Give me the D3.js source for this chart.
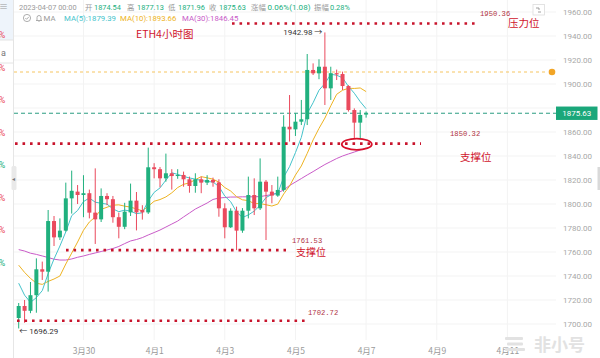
<!DOCTYPE html>
<html><head><meta charset="utf-8">
<script src="https://cdn.jsdelivr.net/npm/d3@7/dist/d3.min.js"></script>
<style>body{margin:0;background:#fff;} svg{display:block;}</style>
</head><body>
<svg id="c" width="600" height="358"></svg>
<script>
// ---------- DATA ----------
const openP  = [1705,1715,1711,1724,1745.6,1743.6,1785.8,1772.2,1777.8,1804.7,1810.3,1807.5,1809,1792.8,1787.2,1806.7,1804,1789,1781,1793,1802.8,1795,1793,1830.6,1829,1821.4,1825.6,1823.3,1824.2,1820.6,1815,1820.6,1817.8,1820,1818,1796.4,1780.6,1794.4,1777.8,1794.4,1807.5,1796.4,1818.6,1810.3,1807,1811.7,1864.4,1862.2,1868.6,1870.6,1911.7,1908.9,1914.4,1896.4,1909,1908.3,1898.3,1878.3,1867.8,1874.54];
const highP  = [1717.5,1720,1735,1754.7,1752,1795,1790,1788,1817.8,1827.8,1815.8,1824,1812,1829.7,1813,1809,1806.7,1792.8,1801,1817,1810,1799,1847,1834,1830.8,1842,1829,1829,1827,1822.8,1825.6,1822.8,1824,1822,1820.6,1800.6,1796.4,1797.8,1796.6,1822.8,1821.4,1838,1820,1815.8,1822.8,1874,1890.8,1875.6,1886.7,1925,1917.2,1920.6,1942.98,1914.4,1912,1910.3,1899,1879.7,1878.3,1877.13];
const lowP   = [1696.29,1701,1709,1709.4,1736.7,1727,1765,1770,1777,1792,1800,1789,1788,1766.7,1785,1799,1784.4,1771.4,1779,1790,1778,1787,1791.7,1821.4,1814,1818.6,1812,1821,1814.4,1809.4,1809.4,1809,1815.8,1814.4,1789.4,1771.4,1780,1761.53,1776,1788,1790.8,1795,1770,1800.6,1806,1810.3,1852,1856.7,1865.8,1865.8,1907.5,1904,1882.5,1886.7,1903.3,1895,1877,1854.7,1854.7,1871.96];
const closeP = [1715,1711,1724,1745.6,1743.6,1785.8,1772.2,1777.8,1804.7,1811,1807.5,1809,1792.8,1787.2,1806.7,1804,1789,1781,1793.6,1802.8,1793,1793,1830.6,1829,1821.4,1825.6,1823.3,1824.2,1820.6,1815,1820.6,1817.8,1820,1818,1796.4,1780.6,1794.4,1777.8,1794.4,1807.5,1796.4,1818.6,1810.3,1807,1811.7,1864.4,1862.2,1868.6,1870.6,1911.7,1908.9,1914.4,1896.4,1909,1908,1898.3,1878.3,1867.8,1874.2,1875.63];
const ma5  = [1734,1724,1718,1722,1727.8,1742,1754.2,1765,1776.8,1790.3,1794.6,1802,1805,1801.5,1800.6,1799.9,1795.9,1793.6,1794.9,1794.1,1791.9,1792.7,1802.6,1809.7,1813.4,1819.9,1826,1824.7,1823,1821.7,1820.7,1819.6,1818.8,1818.3,1814.6,1806.6,1801.9,1793.4,1788.7,1790.9,1794.1,1798.9,1805.4,1808,1808.8,1822.4,1831.1,1842.8,1855.5,1875.5,1884.4,1894.8,1900.4,1908.1,1907.3,1905.2,1898,1892.3,1885.3,1879.39];
const ma10 = [1749,1743,1738,1734,1733,1735.5,1737.5,1740,1750,1759.1,1768.3,1778.1,1785,1789.2,1795.5,1797.3,1799,1799.3,1798.2,1797.4,1795.9,1794.3,1798.1,1802.3,1803.7,1805.9,1809.3,1813.7,1816.4,1817.6,1820.3,1822.8,1821.8,1820.7,1818.2,1813.7,1810.8,1806.1,1803.5,1802.8,1800.3,1800.4,1799.4,1798.3,1799.9,1808.3,1815,1824.1,1831.7,1842.2,1853.4,1863,1871.6,1881.8,1891.4,1894.8,1896.4,1896.3,1896.7,1893.66];
const ma30 = [1762,1760.8,1759,1758,1756.7,1755.4,1754,1753.3,1753.3,1754.2,1755.6,1756.7,1758,1759.2,1760.4,1761.7,1762.9,1764.6,1767,1769.2,1770.4,1772,1774.2,1776.2,1778.3,1780.8,1783.3,1785.8,1789.2,1792.5,1795.8,1798.3,1800.8,1803.8,1805,1805.4,1805.8,1805.8,1806,1806,1806,1806.2,1807,1807.9,1809.2,1811.7,1815.4,1818.3,1821.2,1824.2,1827,1830,1832.9,1835.4,1837.9,1840,1841.7,1843.3,1845,1846.45];
const yTicks = [1700,1720,1740,1760,1780,1800,1820,1840,1860,1880,1900,1920,1940,1960];
const xTickDates  = [Date.UTC(2023,2,30),Date.UTC(2023,3,1),Date.UTC(2023,3,3),Date.UTC(2023,3,5),Date.UTC(2023,3,7),Date.UTC(2023,3,9),Date.UTC(2023,3,11)];
const xTickLabels = ["3月30","4月1","4月3","4月5","4月7","4月9","4月11"];
const resistLevel = 1950.36;
const supportLevels = [1850.32, 1761.53, 1702.72];
const maLevel = 1910;
const lastPrice = 1875.63;

// ---------- SETUP ----------
const FONT = "Roboto, 'Noto Sans CJK SC', sans-serif";
const CJK = "'Noto Sans CJK SC', Roboto, sans-serif";
const MONO = "'Liberation Mono', 'DejaVu Sans Mono', monospace";
const UP = "#20b07e", DOWN = "#ea4a5d";
const C5 = "#45c3cb", C10 = "#eeb322", C30 = "#c95bc8";
const RED = "#c8142c";

const svg = d3.select("#c");
const t0 = Date.UTC(2023,2,28,4);
const H4 = 4*3600*1000;
const times = closeP.map((_,i)=> new Date(t0 + i*H4));
const x = d3.scaleUtc().domain([times[0], times[times.length-1]]).range([18.7, 366.1]);
const y = d3.scaleLinear().domain([1700,1960]).range([324,12]);

svg.append("rect").attr("width",600).attr("height",358).attr("fill","#fff");

// grid
const grid = svg.append("g");
grid.selectAll("line.h").data(yTicks).join("line")
  .attr("x1",14).attr("x2",556).attr("y1",d=>y(d)).attr("y2",d=>y(d))
  .attr("stroke","#f3f3f3").attr("stroke-width",1);
grid.selectAll("line.v").data(xTickDates).join("line")
  .attr("x1",d=>x(new Date(d))).attr("x2",d=>x(new Date(d))).attr("y1",0).attr("y2",340)
  .attr("stroke","#f3f3f3").attr("stroke-width",1);

// left panel artifacts
svg.append("rect").attr("x",0).attr("y",0).attr("width",13.5).attr("height",40).attr("fill","#eef4fb");
svg.append("line").attr("x1",13.5).attr("x2",13.5).attr("y1",0).attr("y2",358).attr("stroke","#e6e6e6");
svg.append("text").attr("x",-1).attr("y",10).attr("font-size",9).attr("fill","#999").attr("font-family",FONT).text("≡");
const pctY = [35,68,100,133,165,198,230,263];
const pctC = [DOWN,DOWN,DOWN,DOWN,UP,DOWN,DOWN,UP];
svg.selectAll("text.pct").data(pctY).join("text")
  .attr("x",-1).attr("y",d=>d+3).attr("font-size",8.5).attr("font-family",FONT)
  .attr("fill",(d,i)=>pctC[i]).text("%");
svg.append("rect").attr("x",-2).attr("y",40).attr("width",15.5).attr("height",23).attr("fill","#fff").attr("stroke","#e4e4e4");
svg.append("text").attr("x",1).attr("y",56).attr("font-size",9).attr("fill","#777").attr("font-family",FONT).text("a");
svg.append("rect").attr("x",11.5).attr("y",166).attr("width",5).attr("height",24).attr("rx",1.5).attr("fill","#e9e9e9");
svg.append("text").attr("x",12.3).attr("y",180.5).attr("font-size",6).attr("fill","#777").text("◂");

// horizontal reference lines
svg.append("line").attr("x1",14).attr("x2",548).attr("y1",y(maLevel)).attr("y2",y(maLevel))
  .attr("stroke","#f6c560").attr("stroke-width",1).attr("stroke-dasharray","3 3");
svg.append("circle").attr("cx",552).attr("cy",y(maLevel)).attr("r",3.3).attr("fill","#f2a526");
svg.append("line").attr("x1",14).attr("x2",556).attr("y1",y(lastPrice)).attr("y2",y(lastPrice))
  .attr("stroke","#2a9d82").attr("stroke-width",1).attr("stroke-dasharray","4 3");

// MA lines
const lineGen = d3.line().x((d,i)=>x(times[i])).y(d=>y(d));
[[ma30,C30],[ma10,C10],[ma5,C5]].forEach(([arr,c])=>{
  svg.append("path").attr("d",lineGen(arr)).attr("fill","none").attr("stroke",c).attr("stroke-width",1);
});

// candles
const cg = svg.append("g");
closeP.forEach((c,i)=>{
  const o = openP[i], up = c >= o, col = up ? UP : DOWN, cx = x(times[i]);
  cg.append("line").attr("x1",cx).attr("x2",cx).attr("y1",y(highP[i])).attr("y2",y(lowP[i]))
    .attr("stroke",col).attr("stroke-width",1);
  const top = y(Math.max(o,c)), bot = y(Math.min(o,c));
  cg.append("rect").attr("x",cx-2).attr("width",4).attr("y",top).attr("height",Math.max(1,bot-top)).attr("fill",col);
});

// dotted annotation lines
function dotted(x1,x2,v){
  svg.append("line").attr("x1",x1).attr("x2",x2).attr("y1",y(v)).attr("y2",y(v))
    .attr("stroke",RED).attr("stroke-width",2.6).attr("stroke-dasharray","2.6 4.9");
}
dotted(232,479,resistLevel);
dotted(15,421,supportLevels[0]);
dotted(66,286,supportLevels[1]);
dotted(17,309,supportLevels[2]);
svg.append("ellipse").attr("cx",356.8).attr("cy",y(supportLevels[0])+0.6).attr("rx",15).attr("ry",5.6)
  .attr("fill","none").attr("stroke","#d8102a").attr("stroke-width",1.8);

function monoLabel(xp,yp,v){
  svg.append("text").attr("x",xp).attr("y",yp).attr("font-family",MONO).attr("font-size",7.2)
    .attr("fill","#b03444").text(d3.format(".2f")(v));
}
function cjkLabel(xp,yp,s,size){
  svg.append("text").attr("x",xp).attr("y",yp).attr("font-family",CJK).attr("font-size",size)
    .attr("fill","#d0142c").text(s);
}
monoLabel(480,16,resistLevel);
cjkLabel(508,27,"压力位",10.5);
monoLabel(450,136,supportLevels[0]);
cjkLabel(460,161,"支撑位",10.5);
monoLabel(292,243,supportLevels[1]);
cjkLabel(296,256,"支撑位",10);
monoLabel(308,315,supportLevels[2]);
cjkLabel(136,38,"ETH4小时图",10.5);

// high/low markers
const iMax = highP.indexOf(d3.max(highP)), iMin = lowP.indexOf(d3.min(lowP));
svg.append("text").attr("x",x(times[iMax])-2.5).attr("y",y(highP[iMax])+2.8).attr("text-anchor","end")
  .attr("font-family",FONT).attr("font-size",8).attr("fill","#333").text(d3.format(".2f")(highP[iMax])+" →");
svg.append("text").attr("x",x(times[iMin])+0.5).attr("y",y(lowP[iMin])+6).attr("text-anchor","start")
  .attr("font-family",FONT).attr("font-size",8).attr("fill","#333").text("← "+d3.format(".2f")(lowP[iMin]));

// right axis (the label hidden under the price tag is left out)
const ya = svg.append("g").attr("transform","translate(563,0)")
  .call(d3.axisRight(y).tickValues(yTicks.filter(v=>Math.abs(y(v)-y(lastPrice))>9)).tickFormat(d3.format(".2f")).tickSize(0).tickPadding(0));
ya.select(".domain").remove();
ya.selectAll("text").attr("font-family",FONT).attr("font-size",8).attr("fill","#a8a8a8");

// last price tag
svg.append("rect").attr("x",556).attr("y",y(lastPrice)-6.7).attr("width",41.5).attr("height",13.4).attr("fill","#1aa77a");
svg.append("text").attr("x",576.7).attr("y",y(lastPrice)+2.8).attr("text-anchor","middle")
  .attr("font-family",FONT).attr("font-size",8).attr("fill","#fff").text(d3.format(".2f")(lastPrice));

// bottom axis
const xa = svg.append("g").attr("transform","translate(0,347.5)")
  .call(d3.axisBottom(x).tickValues(xTickDates.map(d=>new Date(d))).tickFormat((d,i)=>xTickLabels[i]).tickSize(0).tickPadding(0));
xa.select(".domain").remove();
xa.selectAll("text").attr("font-family",CJK).attr("font-size",8.5).attr("fill","#9a9a9a");

// header
const h1 = [
  [19,"2023-04-07 00:00","#9a9a9a"],[85,"开","#9a9a9a"],[94,"1874.54",UP],[127,"高","#9a9a9a"],[137,"1877.13",UP],
  [168,"低","#9a9a9a"],[178,"1871.96",UP],[209,"收","#9a9a9a"],[219,"1875.63",UP],[251,"涨幅","#9a9a9a"],
  [267.5,"0.06%(1.08)",UP],[314,"振幅","#9a9a9a"],[330,"0.28%",UP]];
const h1t = svg.selectAll("text.h1").data(h1).join("text").attr("x",d=>d[0]).attr("y",10).attr("font-family",FONT)
  .attr("font-size",7.4).attr("fill",d=>d[2]).text(d=>d[1]);
h1t.filter(d=>d[1]==="0.06%(1.08)").attr("textLength",43).attr("lengthAdjust","spacingAndGlyphs");
svg.append("circle").attr("cx",27).attr("cy",18).attr("r",3.6).attr("fill","none").attr("stroke","#999").attr("stroke-width",0.8);
svg.append("path").attr("d","M25.3,18 l1.3,1.3 l2.2,-2.4").attr("fill","none").attr("stroke","#999").attr("stroke-width",0.8);
svg.append("path").attr("d","M36,20.5 h6 M37,20.5 v-3 a2,2 0 0 1 4,0 v3 M38.5,21.5 h1").attr("fill","none").attr("stroke","#999").attr("stroke-width",0.8);
const h2 = [[43.5,"MA","#9a9a9a"],[64,"MA(5):1879.39",C5],[120,"MA(10):1893.66",C10],[182,"MA(30):1846.45",C30]];
svg.selectAll("text.h2").data(h2).join("text").attr("x",d=>d[0]).attr("y",21).attr("font-family",FONT)
  .attr("font-size",7.8).attr("fill",d=>d[2]).text(d=>d[1]);

// top-right icon
svg.append("rect").attr("x",533).attr("y",4.5).attr("width",11.5).attr("height",10.5).attr("fill","#fff").attr("stroke","#ddd").attr("stroke-width",0.8);
svg.append("path").attr("d","M536,8 h3 v2 M541,12 h-3").attr("fill","none").attr("stroke","#888").attr("stroke-width",0.8);

// scrollbar
svg.append("rect").attr("x",597.5).attr("y",167).attr("width",2.5).attr("height",23).attr("fill","#d9d9d9");

// watermark
const wm = svg.append("g").attr("fill","#e2e2e2");
[[505,337,18],[507,342.5,16],[505,348,20]].forEach(([bx,by,bw])=>{
  wm.append("rect").attr("x",bx).attr("y",by).attr("width",bw).attr("height",3).attr("rx",1);
});
wm.append("text").attr("x",534).attr("y",351).attr("font-family",CJK).attr("font-weight",700)
  .attr("font-size",17).text("非小号");
</script>
</body></html>
